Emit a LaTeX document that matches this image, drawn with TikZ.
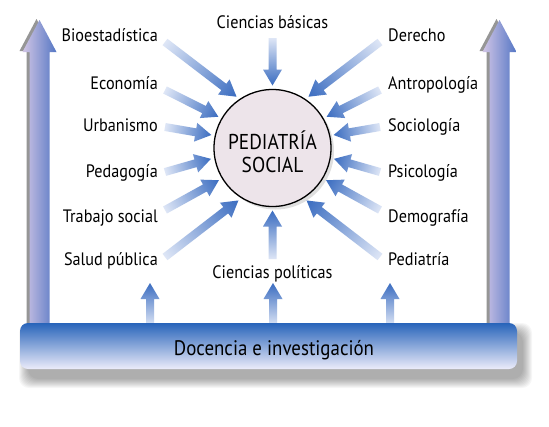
\documentclass[tikz,border=0pt]{standalone}
\usepackage{fontspec}
\setmainfont{PT Sans}[FakeStretch=0.9]
\usetikzlibrary{calc,shadows}
\definecolor{ablue}{RGB}{58,108,192}
\definecolor{alight}{RGB}{222,230,246}
\definecolor{bigl}{RGB}{210,198,230}
\definecolor{bigr}{RGB}{84,118,196}
\definecolor{bartop}{RGB}{40,100,186}
\definecolor{barbot}{RGB}{236,236,250}
\definecolor{circfill}{RGB}{237,228,234}
\definecolor{shadowgray}{RGB}{150,150,150}

\newcommand\radarrow[2]{%
  \path let \p1=(#1), \p2=(#2) in \pgfextra{%
    \pgfmathsetmacro\rang{atan2(\y2-\y1,\x2-\x1)}%
    \pgfmathsetmacro\rlen{veclen(\x2-\x1,\y2-\y1)}%
    \pgfmathsetmacro\rhd{\rlen-16}%
    \xdef\rang{\rang}\xdef\rlen{\rlen}\xdef\rhd{\rhd}\xdef\rxx{\x1}\xdef\ryy{\y1}};
  \begin{scope}[transform canvas={shift={(\rxx,\ryy)},rotate=\rang}]
    \shade[left color=alight,right color=ablue]
      (0pt,-4pt) -- (\rhd pt,-4pt) -- (\rhd pt,-9.5pt) -- (\rlen pt,0pt)
      -- (\rhd pt,9.5pt) -- (\rhd pt,4pt) -- (0pt,4pt) -- cycle;
  \end{scope}}

\begin{document}
\begin{tikzpicture}[x=1pt,y=-1pt,
  lbl/.style={font=\fontsize{18}{20}\selectfont, inner sep=0pt}]
\useasboundingbox[fill=white] (0,0) rectangle (549,426);

% big side arrows
\foreach \c in {39.5,499.5} {
  \fill[shadowgray,xshift=-3pt,yshift=1pt] (\c-10,330) -- (\c-10,52) -- (\c-17,52) -- (\c,20) -- (\c+17,52) -- (\c+10,52) -- (\c+10,330) -- cycle;
  \shade[left color=bigl,right color=bigr] (\c-10,330) -- (\c-10,52) -- (\c-17,52) -- (\c,20) -- (\c+17,52) -- (\c+10,52) -- (\c+10,330) -- cycle;
}

% circle
\node[circle, draw, line width=1.3pt, fill=circfill, minimum size=117pt, inner sep=0pt,
  drop shadow={opacity=0.25, shadow xshift=3pt, shadow yshift=-3pt}] (circ) at (272.5,148) {};
\node[align=center, font=\fontsize{21.5}{23}\selectfont, inner sep=0pt] (ctext) at (272.5,152) {PEDIATRÍA\\SOCIAL};

% small up arrows
\foreach \i/\x in {1/150,2/273,3/390} {
  \coordinate (sT\i) at (\x,326);
  \coordinate (sH\i) at (\x,283);
  \radarrow{sT\i}{sH\i}
}

% bar shadow
\foreach \i in {0,...,9} {
  \fill[black, opacity=0.035, rounded corners=10pt] (28-\i,332-\i) rectangle (523+\i,379+\i);
}
\node[rounded corners=8pt, top color=bartop, bottom color=barbot, minimum width=497pt, minimum height=46pt, inner sep=0pt] (bar) at (268.5,346) {};
\node[font=\fontsize{21}{23}\selectfont, inner sep=0pt, anchor=base] (bartext) at (274,355) {Docencia e investigación};

% labels
\node[lbl, anchor=base] (top) at (272.5,28) {Ciencias básicas};
\node[lbl, anchor=base] (bot) at (272.5,278) {Ciencias políticas};
\node[lbl, anchor=base east] (l1) at (158,41) {Bioestadística};
\node[lbl, anchor=base east] (l2) at (158,89) {Economía};
\node[lbl, anchor=base east] (l3) at (158,131) {Urbanismo};
\node[lbl, anchor=base east] (l4) at (158,177) {Pedagogía};
\node[lbl, anchor=base east] (l5) at (158,222) {Trabajo social};
\node[lbl, anchor=base east] (l6) at (158,265) {Salud pública};
\node[lbl, anchor=base west] (r1) at (388,41) {Derecho};
\node[lbl, anchor=base west] (r2) at (388,89) {Antropología};
\node[lbl, anchor=base west] (r3) at (388,131) {Sociología};
\node[lbl, anchor=base west] (r4) at (388,177) {Psicología};
\node[lbl, anchor=base west] (r5) at (388,222) {Demografía};
\node[lbl, anchor=base west] (r6) at (388,265) {Pediatría};

% radial arrows
\foreach \i/\y/\a in {1/42/125,2/90/150,3/127/168,4/172/190,5/210/211,6/257/237} {
  \coordinate (tL\i) at (165,\y);
  \coordinate (hL\i) at ($(circ.center)+(\a:62.5pt)$);
  \radarrow{tL\i}{hL\i}
  \coordinate (tR\i) at (380,\y);
  \coordinate (hR\i) at ($(circ.center)+(180-\a:62.5pt)$);
  \radarrow{tR\i}{hR\i}
}
\coordinate (tT) at (272.5,38);
\coordinate (hT) at ($(circ.center)+(90:62.5pt)$);
\radarrow{tT}{hT}
\coordinate (tB) at (272.5,259);
\coordinate (hB) at ($(circ.center)+(270:62.5pt)$);
\radarrow{tB}{hB}
\end{tikzpicture}
\end{document}
